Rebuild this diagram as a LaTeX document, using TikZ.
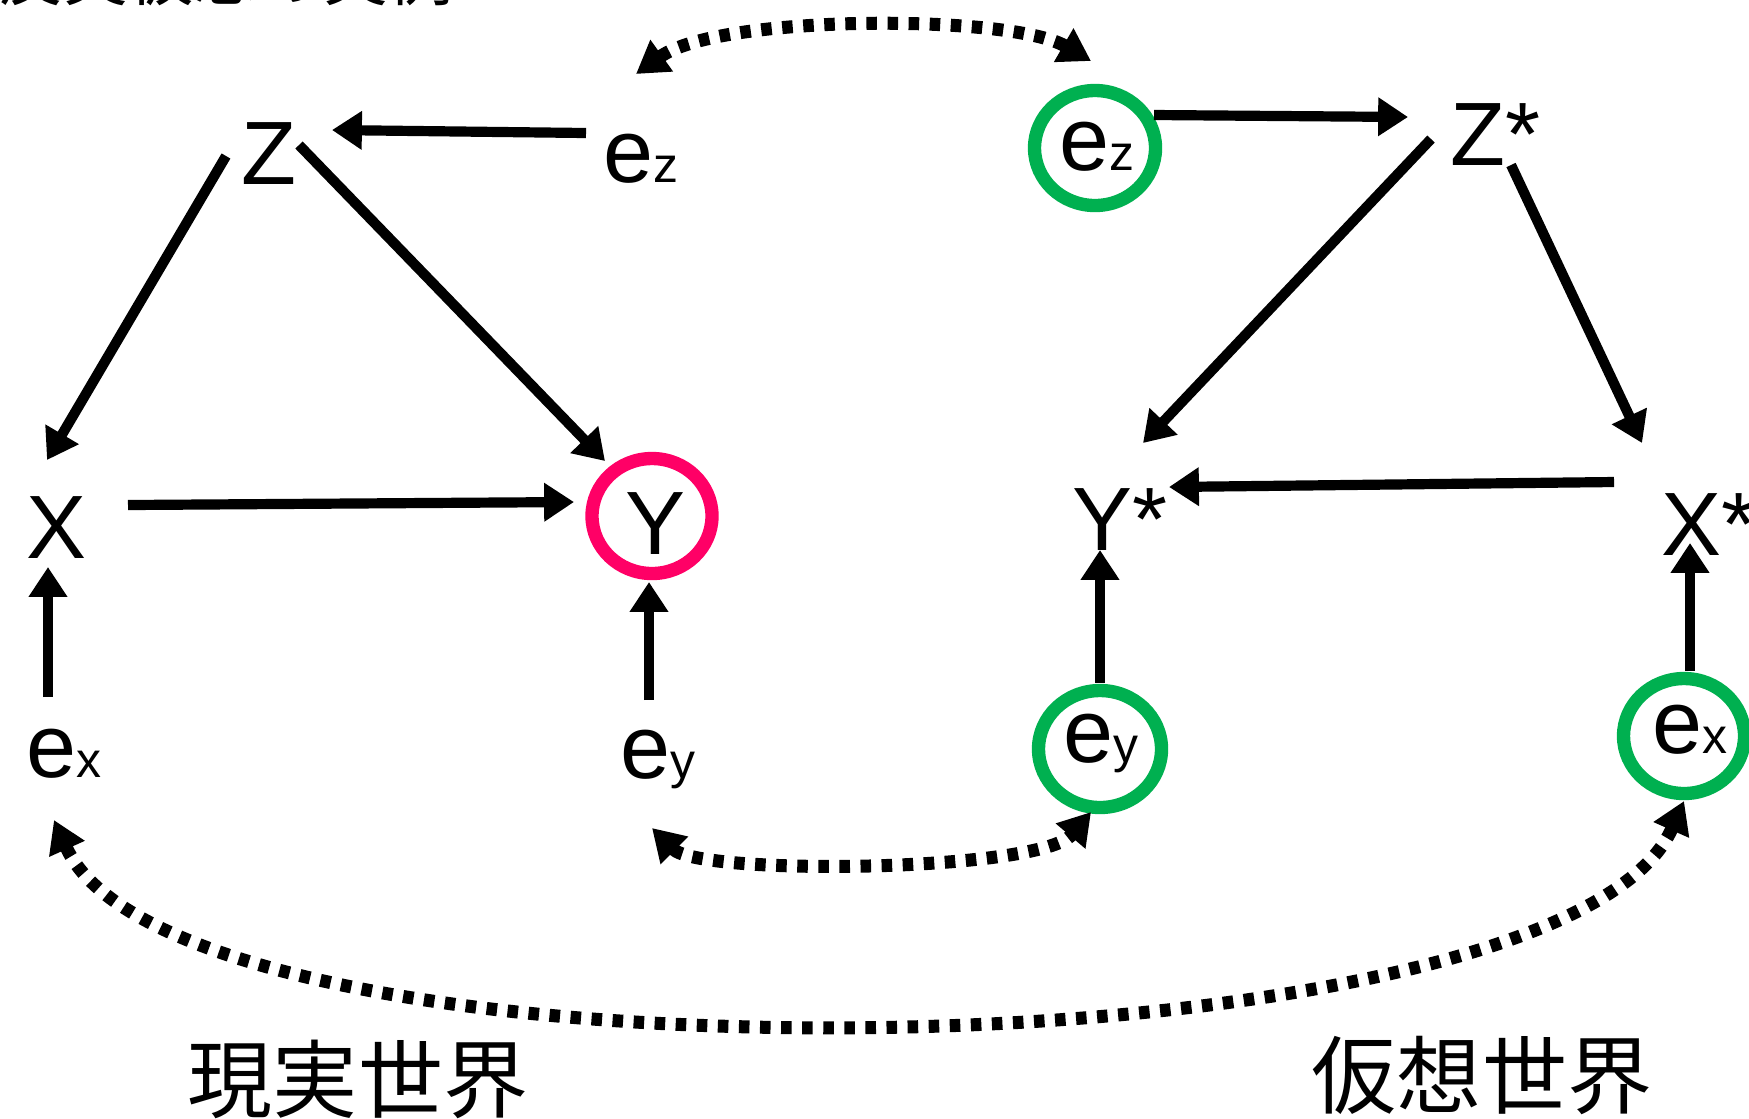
\documentclass[tikz,border=0pt]{standalone}
\usepackage{fontspec}
\setmainfont{Liberation Sans}
\newfontfamily\cjk{Noto Sans CJK JP}
\usetikzlibrary{arrows.meta,shapes.geometric}
\definecolor{realred}{RGB}{255,0,102}
\definecolor{twingreen}{RGB}{0,176,80}
\newcommand\lowsub[1]{{\fontsize{14.2}{16}\selectfont #1}}

\begin{document}
\begin{tikzpicture}[x=0.1mm,y=-0.1mm,
  var/.style={inner sep=0pt, anchor=base, font=\fontsize{25.6}{30}\selectfont},
  arr/.style={line width=2.9pt, -{Triangle[length=8.5pt,width=10.5pt]}},
  link/.style={line width=3.7pt, dash pattern=on 3pt off 3pt,
    {Triangle[length=9pt,width=10.5pt]}-{Triangle[length=9pt,width=10.5pt]}},
  ring/.style={ellipse, draw, line width=3.8pt, inner sep=0pt,
    minimum width=12.1mm, minimum height=11.5mm},
  world/.style={inner sep=0pt, font=\cjk\fontsize{24.2}{28}\selectfont}
]
\useasboundingbox (0,0) rectangle (1749,1118);
\clip (0,0) rectangle (1749,1118);
\fill[white] (0,0) rectangle (1749,1118);

% heading (runs past the top edge)
\node[inner sep=0pt, anchor=base west, font=\cjk\fontsize{18.5}{20}\selectfont]
  (title) at (-2,0) {反実仮想の実例};

% ---------- real world ----------
\node[var] (Z)  at (269,184) {Z};
\node[var] (ezL) at (641,182) {e\lowsub{z}};
\node[var] (X)  at (57,558) {X};
\node[var] (Y)  at (655,554) {Y};
\node[var] (exL) at (64,777) {e\lowsub{x}};
\node[var] (eyL) at (658,778) {e\lowsub{y}};
\node[ring, draw=realred, minimum width=12.0mm, minimum height=11.5mm] (Yring) at (652,516) {};

% ---------- hypothetical world ----------
\node[ring, draw=twingreen] (ezR) at (1095,148) {};
\node[ring, draw=twingreen, minimum width=12.3mm, minimum height=11.7mm] (eyR) at (1100,749) {};
\node[ring, draw=twingreen] (exR) at (1684,736) {};
\node[var] (ezRt) at (1097,170) {e\lowsub{z}};
\node[var] (eyRt) at (1101,762) {e\lowsub{y}};
\node[var] (exRt) at (1690,753) {e\lowsub{x}};
\node[var, anchor=base west] (Zs) at (1450,165) {Z*};
\node[var, anchor=base west] (Ys) at (1072,550) {Y*};
\node[var, anchor=base west] (Xs) at (1661,555) {X*};

% world labels
\node[world] (real) at (358,1079) {現実世界};
\node[world] (hypo) at (1482,1075) {仮想世界};

% ---------- arrow end points ----------
\coordinate (ezL-o) at (586,133);  \coordinate (Z-i1)  at (332,130);
\coordinate (Z-o1)  at (226,156);  \coordinate (X-i1)  at (47,460);
\coordinate (Z-o2)  at (299,145);  \coordinate (Y-i1)  at (605,461);
\coordinate (X-o)   at (128,505);  \coordinate (Y-i2)  at (574,502);
\coordinate (exL-o) at (48,697);   \coordinate (X-i2)  at (48,567);
\coordinate (eyL-o) at (649,700);  \coordinate (Y-i3)  at (649,582);

\coordinate (ezR-o) at (1154,115); \coordinate (Zs-i)  at (1408,117);
\coordinate (Zs-o1) at (1431,139); \coordinate (Ys-i1) at (1143,443);
\coordinate (Zs-o2) at (1511,165); \coordinate (Xs-i1) at (1642,443);
\coordinate (Xs-o)  at (1614,482); \coordinate (Ys-i2) at (1169,487);
\coordinate (eyR-o) at (1100,683); \coordinate (Ys-i3) at (1100,550);
\coordinate (exR-o) at (1690,671); \coordinate (Xs-i2) at (1690,543);

% causal arrows
\draw[arr] (ezL-o) -- (Z-i1);
\draw[arr] (Z-o1) -- (X-i1);
\draw[arr] (Z-o2) -- (Y-i1);
\draw[arr] (X-o) -- (Y-i2);
\draw[arr] (exL-o) -- (X-i2);
\draw[arr] (eyL-o) -- (Y-i3);

\draw[arr] (ezR-o) -- (Zs-i);
\draw[arr] (Zs-o1) -- (Ys-i1);
\draw[arr] (Zs-o2) -- (Xs-i1);
\draw[arr] (Xs-o) -- (Ys-i2);
\draw[arr] (eyR-o) -- (Ys-i3);
\draw[arr] (exR-o) -- (Xs-i2);

% shared noise links
\coordinate (ezL-l) at (636,74);  \coordinate (ezR-l) at (1091,61);
\coordinate (eyL-l) at (652,828); \coordinate (eyR-l) at (1091,812);
\coordinate (exL-l) at (54,820);  \coordinate (exR-l) at (1684,801);

\draw[link] (ezL-l) .. controls (720,14) and (1010,14) .. (ezR-l);
\draw[link] (eyL-l) .. controls (700,876) and (1040,872) .. (eyR-l);
\draw[link] (exL-l) .. controls (180,1100) and (1560,1082) .. (exR-l);
\end{tikzpicture}
\end{document}
